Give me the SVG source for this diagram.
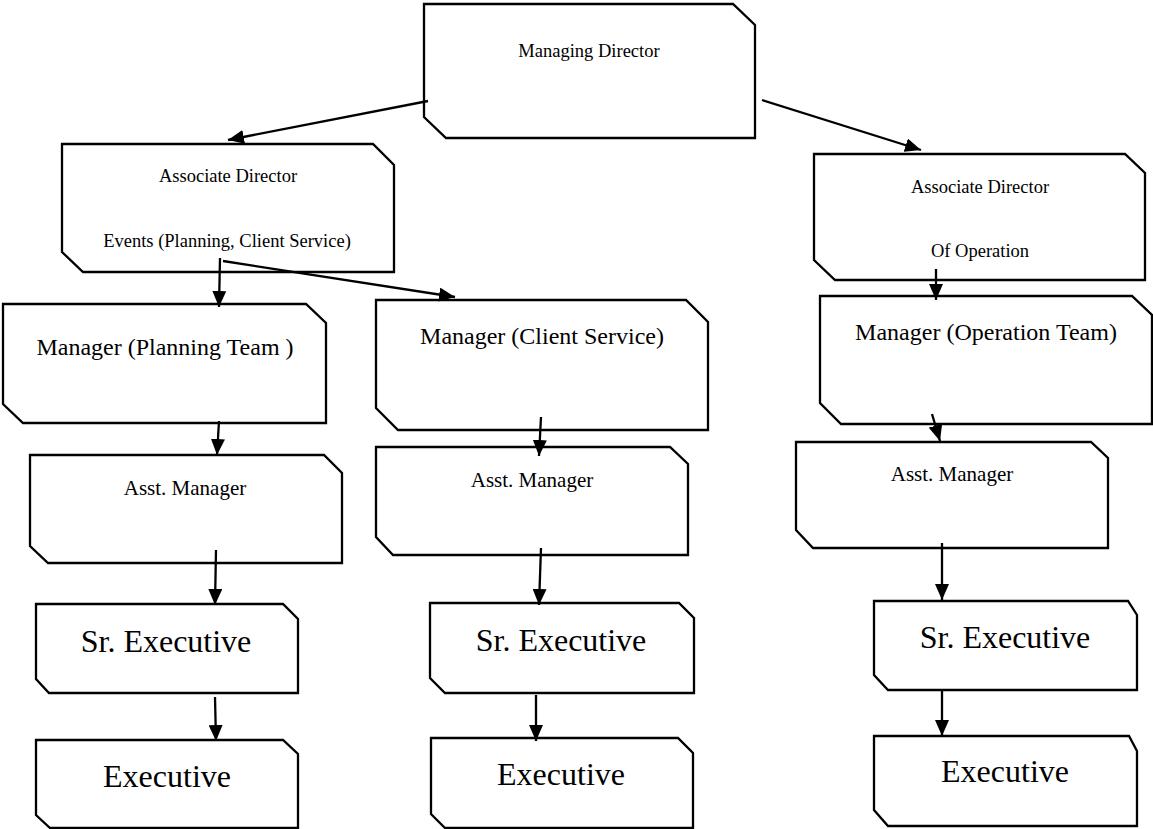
<svg xmlns="http://www.w3.org/2000/svg" width="1153" height="829" viewBox="0 0 1153 829">
<style>
.box{fill:#fff;stroke:#000;stroke-width:2.3;stroke-linejoin:miter}
.t{font-family:"Liberation Serif","Times New Roman","DejaVu Serif",serif;fill:#000;text-anchor:middle}
.s{font-size:18.5px}
.m{font-size:24px}
.a{font-size:21px}
.l{font-size:32px}
.c{stroke:#000;stroke-width:2.3;fill:none;marker-end:url(#ah)}
</style>
<defs>
<marker id="ah" viewBox="0 0 16 14" refX="16" refY="7" markerWidth="16" markerHeight="14" markerUnits="userSpaceOnUse" orient="auto">
<path d="M0,0 L16,7 L0,14 Z" fill="#000"/>
</marker>
</defs>
<rect width="1153" height="829" fill="#fff"/>
<g id="md">
<polygon class="box" points="424,4 733,4 755,25 755,138 446,138 424,117"/>
<text class="t s" x="589" y="57">Managing Director</text>
</g>
<g id="ad-events">
<polygon class="box" points="62,144 373,144 394,165 394,272 83,272 62,252"/>
<text class="t s" x="228" y="182">Associate Director</text>
<text class="t s" x="227" y="247">Events (Planning, Client Service)</text>
</g>
<g id="ad-op">
<polygon class="box" points="814,154 1125,154 1145,173 1145,280 835,280 814,260"/>
<text class="t s" x="980" y="193">Associate Director</text>
<text class="t s" x="980" y="257">Of Operation</text>
</g>
<g id="mgr-planning">
<polygon class="box" points="3,304 306,304 326,323 326,423 23,423 3,404"/>
<text class="t m" x="165" y="355">Manager (Planning Team )</text>
</g>
<g id="mgr-client">
<polygon class="box" points="376,300 686,300 708,322 708,430 398,430 376,408"/>
<text class="t m" x="542" y="344">Manager (Client Service)</text>
</g>
<g id="mgr-op">
<polygon class="box" points="820,296 1132,296 1152,315 1152,424 841,424 820,403"/>
<text class="t m" x="986" y="340">Manager (Operation Team)</text>
</g>
<g id="am-planning">
<polygon class="box" points="30,455 324,455 342,473 342,563 48,563 30,546"/>
<text class="t a" x="185" y="495">Asst. Manager</text>
</g>
<g id="am-client">
<polygon class="box" points="376,447 670,447 688,464 688,555 393,555 376,537"/>
<text class="t a" x="532" y="487">Asst. Manager</text>
</g>
<g id="am-op">
<polygon class="box" points="796,442 1091,442 1108,458 1108,548 813,548 796,530"/>
<text class="t a" x="952" y="481">Asst. Manager</text>
</g>
<g id="sr-planning">
<polygon class="box" points="36,604 283,604 298,619 298,693 49,693 36,679"/>
<text class="t l" x="166" y="652">Sr. Executive</text>
</g>
<g id="sr-client">
<polygon class="box" points="430,603 679,603 694,618 694,693 445,693 430,678"/>
<text class="t l" x="561" y="651">Sr. Executive</text>
</g>
<g id="sr-op">
<polygon class="box" points="874,601 1128,601 1137,615 1137,690 888,690 874,675"/>
<text class="t l" x="1005" y="648">Sr. Executive</text>
</g>
<g id="ex-planning">
<polygon class="box" points="36,740 283,740 298,754 298,828 50,828 36,815"/>
<text class="t l" x="167" y="787">Executive</text>
</g>
<g id="ex-client">
<polygon class="box" points="431,738 678,738 693,753 693,828 445,828 431,814"/>
<text class="t l" x="561" y="785">Executive</text>
</g>
<g id="ex-op">
<polygon class="box" points="874,736 1129,736 1137,751 1137,826 888,826 874,810"/>
<text class="t l" x="1005" y="782">Executive</text>
</g>
<g id="connectors">
<line class="c" x1="428" y1="101" x2="228" y2="140"/>
<line class="c" x1="762" y1="100" x2="921" y2="150"/>
<line class="c" x1="220" y1="258" x2="219" y2="307"/>
<line class="c" x1="223" y1="261" x2="455" y2="297"/>
<line class="c" x1="936" y1="269" x2="936" y2="300"/>
<line class="c" x1="219" y1="421" x2="217" y2="455"/>
<line class="c" x1="541" y1="417" x2="539" y2="456"/>
<line class="c" x1="932" y1="414" x2="940" y2="441"/>
<line class="c" x1="216" y1="550" x2="215" y2="605"/>
<line class="c" x1="541" y1="548" x2="539" y2="605"/>
<line class="c" x1="942" y1="543" x2="942" y2="600"/>
<line class="c" x1="215" y1="697" x2="216" y2="741"/>
<line class="c" x1="536" y1="695" x2="536" y2="741"/>
<line class="c" x1="942" y1="690" x2="942" y2="736"/>
</g>
</svg>
